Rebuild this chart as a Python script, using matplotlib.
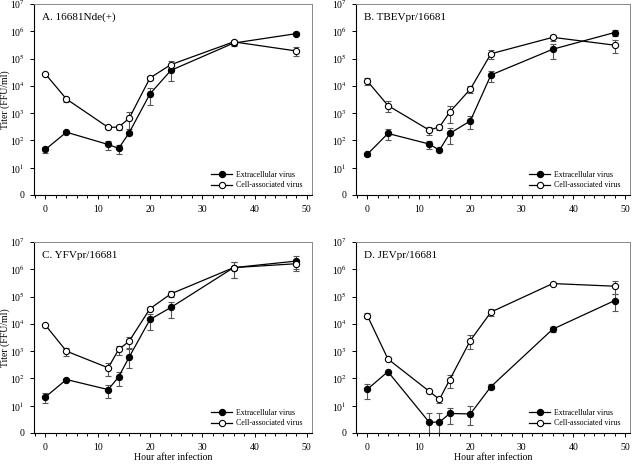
import numpy as np
import matplotlib
matplotlib.use("Agg")
import matplotlib.pyplot as plt
from matplotlib.ticker import MultipleLocator, NullLocator

plt.rcParams['font.family'] = ['Liberation Serif', 'DejaVu Serif']
plt.rcParams['mathtext.fontset'] = 'stix'

hours = [0, 4, 12, 14, 16, 20, 24, 36, 48]

# A. 16681Nde(+)
a_ext = [47, 200, 71, 51, 190, 5100, 37000, 3.7e5, 8.2e5]
a_ext_sd = [12, 20, 26, 18, 20, 3300, 22000, 8e4, 1e5]
a_cell = [27000, 3300, 300, 310, 640, 19500, 60000, 4.1e5, 1.9e5]
a_cell_sd = [3000, 700, 30, 70, 500, 3000, 22000, 5e4, 7e4]

# B. TBEVpr/16681
b_ext = [31, 180, 74, 44, 180, 520, 25000, 2.2e5, 9e5]
b_ext_sd = [3, 75, 25, 3, 110, 250, 11000, 1.2e5, 2.5e5]
b_cell = [15000, 1900, 240, 310, 1100, 7600, 1.5e5, 6e5, 3.1e5]
b_cell_sd = [4000, 800, 80, 70, 700, 2000, 5e4, 1.5e5, 1.5e5]

# C. YFVpr/16681
c_ext = [21, 91, 39, 114, 600, 14500, 40000, 1.15e6, 2.0e6]
c_ext_sd = [8, 5, 20, 60, 600, 8500, 23000, 7e5, 1.1e6]
c_cell = [8900, 1000, 245, 1150, 2300, 36000, 1.26e5, 1.15e6, 1.6e6]
c_cell_sd = [500, 350, 120, 450, 950, 4000, 30000, 7e5, 6e5]

# D. JEVpr/16681
d_ext = [40, 177, 2.5, 2.5, 5.2, 5, 50, 6400, 71000]
d_ext_sd = [22, 15, 2.7, 2.7, 3, 5, 10, 1500, 50000]
d_cell = [20000, 515, 34, 17, 90, 2450, 27000, 3e5, 2.4e5]
d_cell_sd = [4000, 30, 3, 4, 45, 1300, 8000, 20000, 1.2e5]

titles = ["A. 16681Nde(+)", "B. TBEVpr/16681", "C. YFVpr/16681", "D. JEVpr/16681"]
ytick_labels = ["0"] + [f"10$^{i}$" for i in range(1, 8)]

panels = [
    (a_ext, a_ext_sd, a_cell, a_cell_sd),
    (b_ext, b_ext_sd, b_cell, b_cell_sd),
    (c_ext, c_ext_sd, c_cell, c_cell_sd),
    (d_ext, d_ext_sd, d_cell, d_cell_sd),
]

# posisi axes dalam pixel (kiri, atas, kanan, bawah) dari gambar 635x467
W, H = 635, 467
boxes = [(34, 4, 312, 195), (356, 4, 630, 195), (34, 242, 312, 433), (356, 242, 630, 433)]

fig = plt.figure(figsize=(6.35, 4.67), dpi=100)

for k, (ext, ext_sd, cell, cell_sd) in enumerate(panels):
    l, t, r, b = boxes[k]
    ax = fig.add_axes([l / W, 1 - b / H, (r - l) / W, (b - t) / H])
    x = np.array(hours)
    for y, sd, face, lab in [(ext, ext_sd, "black", "Extracellular virus"),
                             (cell, cell_sd, "white", "Cell-associated virus")]:
        y = np.array(y, dtype=float)
        sd = np.array(sd, dtype=float)
        # batas bawah error bar biar ga jatuh ke bawah sumbu log
        lower = np.minimum(sd, 0.6 * y)
        ax.errorbar(x, y, yerr=[lower, sd], fmt="none", ecolor="#555555",
                    elinewidth=0.8, capsize=2, capthick=0.8, zorder=2)
        ax.plot(x, y, "-o", color="black", lw=0.9, markersize=4.5,
                markerfacecolor=face, markeredgecolor="black", markeredgewidth=0.8,
                label=lab, zorder=3)

    ax.set_yscale("log")
    ax.set_ylim(1, 1e7)
    ax.set_xlim(-2.2, 51)
    ax.set_yticks([10 ** i for i in range(8)])
    ax.set_yticklabels(ytick_labels)
    ax.yaxis.set_minor_locator(NullLocator())
    ax.xaxis.set_major_locator(MultipleLocator(10))
    ax.xaxis.set_minor_locator(MultipleLocator(2))
    ax.tick_params(axis="both", which="both", direction="out", top=False, right=False,
                   labelsize=7, width=0.7)
    ax.tick_params(which="major", length=3)
    ax.tick_params(which="minor", length=2)
    ax.tick_params(axis="x", pad=4)
    for s in ["top", "right"]:
        ax.spines[s].set_color("#888888")
        ax.spines[s].set_linewidth(0.7)
    for s in ["left", "bottom"]:
        ax.spines[s].set_linewidth(0.8)

    ax.text(0.03, 0.955, titles[k], transform=ax.transAxes, fontsize=8, va="top", ha="left")
    ax.legend(loc="lower right", bbox_to_anchor=(0.985, 0.0), frameon=False, fontsize=5.7,
              handlelength=2.6, handletextpad=0.5, labelspacing=0.3, borderpad=0.2)

    if k % 2 == 0:
        ax.set_ylabel("Titer (FFU/ml)", fontsize=7)
        ax.yaxis.set_label_coords(-0.088, 0.5)
    if k >= 2:
        ax.set_xlabel("Hour after infection", fontsize=7, va="center")
        ax.xaxis.set_label_coords(0.5, -0.13)

plt.savefig("out.png", dpi=100)
plt.close()
